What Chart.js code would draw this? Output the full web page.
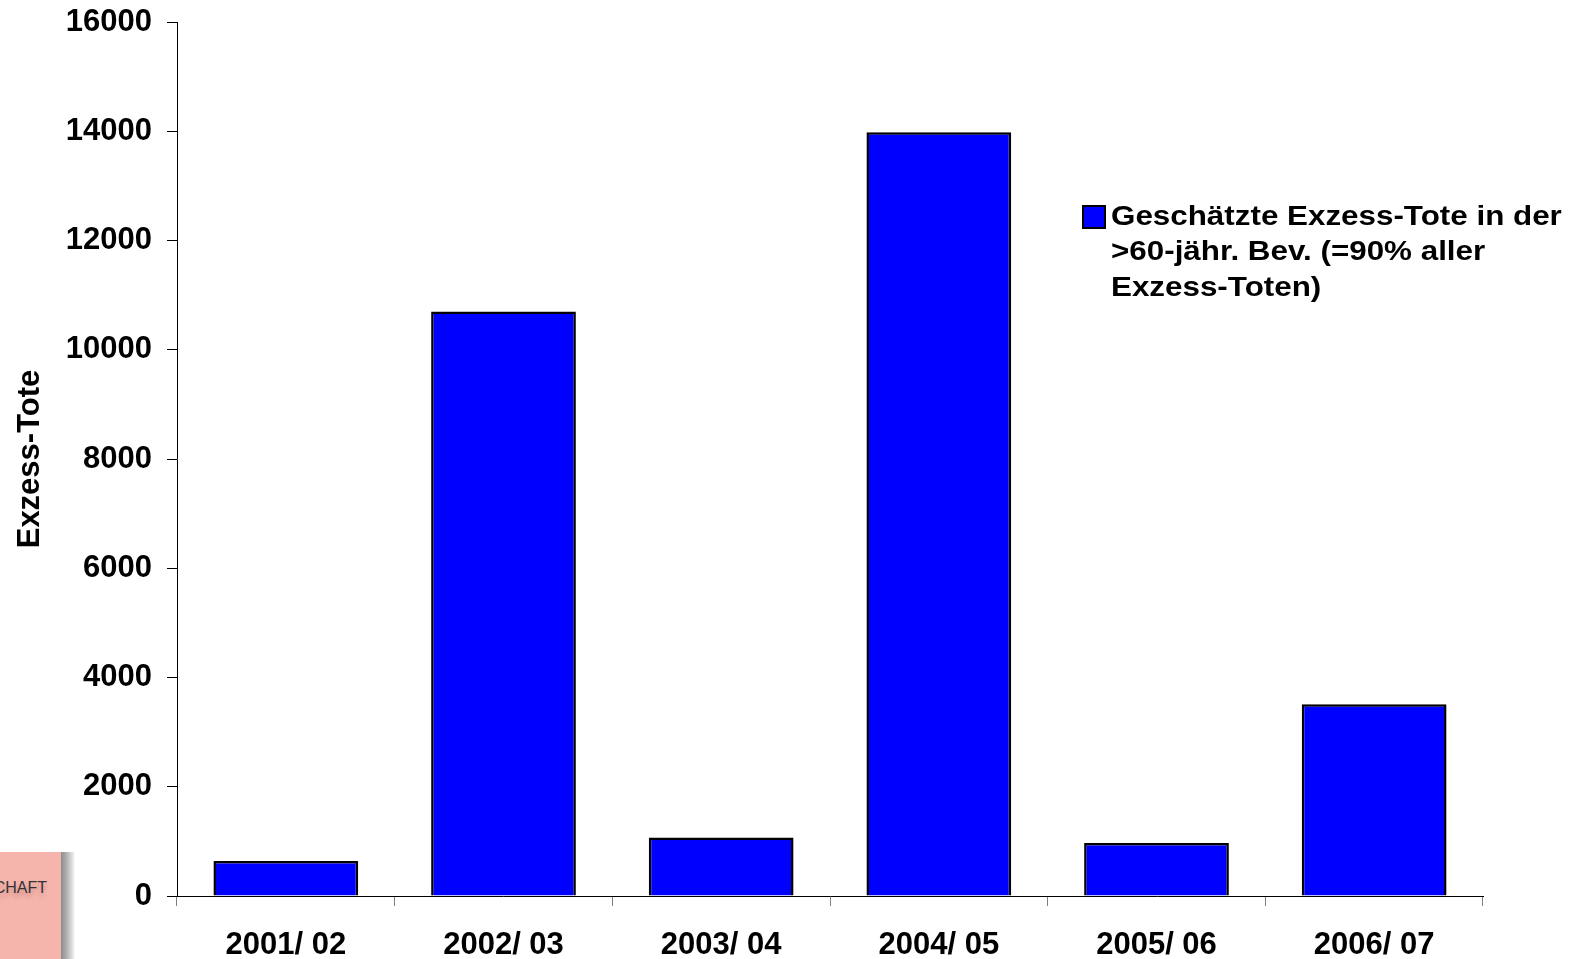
<!DOCTYPE html>
<html>
<head>
<meta charset="utf-8">
<script src="https://cdn.jsdelivr.net/npm/chart.js@4.4.0/dist/chart.umd.min.js"></script>
<style>
  body { margin: 0; background: #fff; }
  #wrap { position: relative; width: 1582px; height: 959px; }
  #logo {
    position: absolute; left: 0; top: 852px; width: 75px; height: 107px;
    background: linear-gradient(to right, #f5b5ad 0, #f5b5ad 61px, #8c8c8c 61px, #b4b4b4 67px, #e6e6e6 73px, #fff 75px);
    overflow: hidden;
  }
  #logo span {
    position: absolute; right: 28px; top: 27px;
    font: 16px "Liberation Sans", Arial, sans-serif; color: #333;
    text-shadow: 0 4px 5px #c98880;
  }
</style>
</head>
<body>
<div id="wrap">
  <canvas id="excesschart"></canvas>
  <div id="logo"><span>CHAFT</span></div>
</div>
<script>
const seasons = ['2001/ 02', '2002/ 03', '2003/ 04', '2004/ 05', '2005/ 06', '2006/ 07'];
const excessDeaths = [640, 10700, 1070, 13980, 970, 3510];
const yTicks = [0, 2000, 4000, 6000, 8000, 10000, 12000, 14000, 16000];
const legendLines = ['Geschätzte Exzess-Tote in der', '>60-jähr. Bev. (=90% aller', 'Exzess-Toten)'];

const fontFamily = '"Liberation Sans", Arial, sans-serif';

// legend drawn inside the plot, like the original
const legendPlugin = {
    id: 'sideLegend',
    afterDraw(chart) {
        const c = chart.ctx;
        c.save();
        c.fillStyle = '#0000ff';
        c.fillRect(1083, 206, 22, 22);
        c.strokeStyle = '#000';
        c.lineWidth = 2;
        c.strokeRect(1083, 206, 22, 22);
        c.fillStyle = '#000';
        c.font = 'bold 28px ' + fontFamily;
        c.textBaseline = 'middle';
        legendLines.forEach((line, i) => {
            c.save();
            c.translate(1111, 217 + i * 35.5);
            c.scale(1.12, 1);
            c.fillText(line, 0, 0);
            c.restore();
        });
        c.restore();
    }
};

const ctx = document.getElementById('excesschart').getContext('2d');
const excesschart = new Chart(ctx, {
    type: 'bar',
    data: {
        labels: seasons,
        datasets: [{
            label: legendLines.join(' '),
            data: excessDeaths,
            backgroundColor: '#0000ff',
            borderColor: '#000000',
            borderWidth: 2.5,
            categoryPercentage: 0.665,
            barPercentage: 1
        }]
    },
    options: {
        responsive: true,
        maintainAspectRatio: false,
        animation: false,
        layout: { padding: { top: 22, right: 99, left: 0, bottom: 0 } },
        plugins: {
            legend: { display: false },
            tooltip: { enabled: false }
        },
        scales: {
            x: {
                grid: { drawOnChartArea: false, tickLength: 10, color: '#808080' },
                border: { color: '#000', width: 1 },
                ticks: {
                    color: '#000',
                    padding: 21,
                    maxRotation: 0,
                    font: { family: fontFamily, size: 31, weight: 'bold' }
                },
                afterFit(scale) { scale.height = 63; }
            },
            y: {
                min: 0,
                max: 16000,
                afterBuildTicks(scale) { scale.ticks = yTicks.map(v => ({ value: v })); },
                grid: { drawOnChartArea: false, tickLength: 10, color: '#000' },
                border: { color: '#000', width: 1 },
                ticks: {
                    color: '#000',
                    padding: 15,
                    callback: v => String(v),
                    font: { family: fontFamily, size: 31, weight: 'bold' }
                },
                title: {
                    display: true,
                    text: 'Exzess-Tote',
                    color: '#000',
                    padding: { top: 12, bottom: 0 },
                    font: { family: fontFamily, size: 31, weight: 'bold' }
                },
                afterFit(scale) {
                    scale.width = 177;
                    scale.paddingTop = 0;
                    scale.paddingBottom = 0;
                }
            }
        }
    },
    plugins: [legendPlugin]
});
</script>
</body>
</html>
